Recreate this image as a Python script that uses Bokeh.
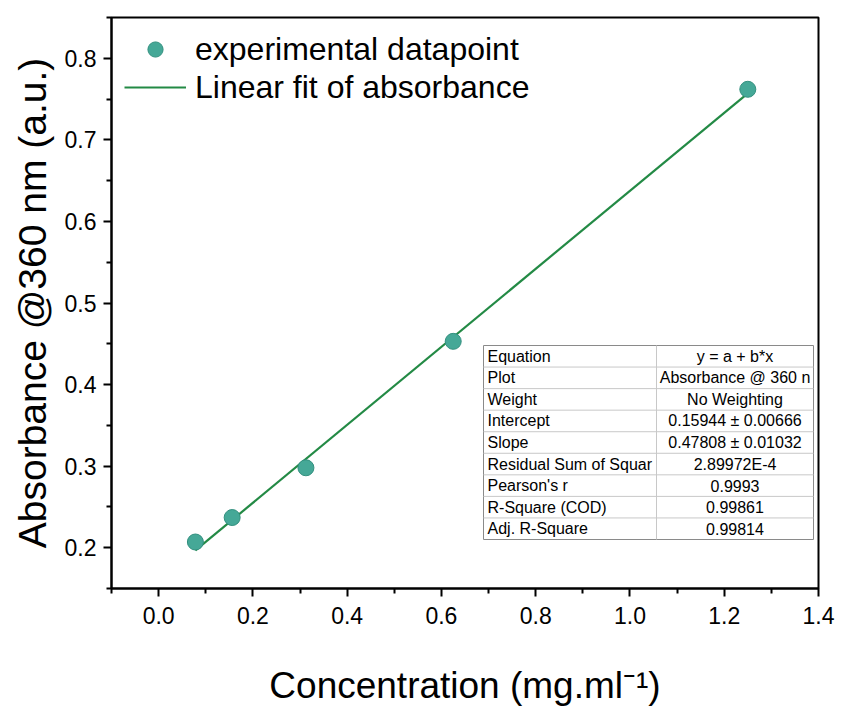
from bokeh.plotting import figure
from bokeh.models import Range1d, FixedTicker, Legend, LegendItem, PrintfTickFormatter
from bokeh.core.properties import value
from bokeh.embed import file_html
from bokeh.resources import INLINE

# ---------------- data ----------------
concentration = [0.078, 0.156, 0.3125, 0.625, 1.25]
absorbance = [0.207, 0.237, 0.298, 0.453, 0.762]
intercept = 0.15944
slope = 0.47808
fit_x = [min(concentration), max(concentration)]
fit_y = [intercept + slope * v for v in fit_x]

x_ticks = [0.0, 0.2, 0.4, 0.6, 0.8, 1.0, 1.2, 1.4]
x_minor = [-0.1, 0.1, 0.3, 0.5, 0.7, 0.9, 1.1, 1.3]
y_ticks = [0.2, 0.3, 0.4, 0.5, 0.6, 0.7, 0.8]
y_minor = [0.15, 0.25, 0.35, 0.45, 0.55, 0.65, 0.75, 0.85]

table_keys = ["Equation", "Plot", "Weight", "Intercept", "Slope",
              "Residual Sum of Squar", "Pearson's r", "R-Square (COD)", "Adj. R-Square"]
table_vals = ["y = a + b*x", "Absorbance @ 360 n", "No Weighting",
              "0.15944 \u00b1 0.00666", "0.47808 \u00b1 0.01032", "2.89972E-4",
              "0.9993", "0.99861", "0.99814"]

x_label = "Concentration (mg.ml\u207b\u00b9)"
y_label = "Absorbance @360 nm (a.u.)"
legend_labels = ["experimental datapoint", "Linear fit of absorbance"]

# ---------------- layout ----------------
W, H = 844, 709
X0, X1 = -0.1, 1.4
Y0, Y1 = 0.15, 0.85
FL, FR, FT, FB = 111, 818, 17, 588
FONT = "Liberation Sans"


def dx(px):
    return X0 + (px - FL) * (X1 - X0) / (FR - FL)


def dy(py):
    return Y1 - (py - FT) * (Y1 - Y0) / (FB - FT)


p = figure(width=W, height=H, output_backend="svg", toolbar_location=None,
           x_range=Range1d(X0, X1), y_range=Range1d(Y0, Y1),
           min_border_left=FL, min_border_right=W - FR,
           min_border_top=FT, min_border_bottom=H - FB)
p.background_fill_color = "white"
p.border_fill_color = "white"
p.outline_line_color = "black"
p.outline_line_width = 2
p.xgrid.visible = False
p.ygrid.visible = False

for ax in (p.xaxis[0], p.yaxis[0]):
    ax.axis_line_width = 2
    ax.major_tick_line_width = 2
    ax.minor_tick_line_width = 2
    ax.major_tick_out = 8
    ax.major_tick_in = 0
    ax.minor_tick_out = 5
    ax.minor_tick_in = 0
    ax.major_label_text_font = FONT
    ax.major_label_text_font_size = "23px"
    ax.major_label_text_color = "black"
    ax.axis_label_text_font = FONT
    ax.axis_label_text_font_style = "normal"
    ax.axis_label_text_color = "black"
    ax.formatter = PrintfTickFormatter(format="%.1f")

p.xaxis.ticker = FixedTicker(ticks=x_ticks, minor_ticks=x_minor)
p.yaxis.ticker = FixedTicker(ticks=y_ticks, minor_ticks=y_minor)
p.xaxis.major_label_standoff = 10
p.yaxis.major_label_standoff = 7

p.xaxis.axis_label = x_label
p.xaxis.axis_label_text_font_size = "37px"
p.xaxis.axis_label_standoff = 38
p.yaxis.axis_label = y_label
p.yaxis.axis_label_text_font_size = "39px"
p.yaxis.axis_label_standoff = 8

# ---------------- glyphs ----------------
fit = p.line(fit_x, fit_y, line_color="#238a45", line_width=2.2)
pts = p.scatter(concentration, absorbance, size=16, fill_color="#45a897",
                line_color="#33907f", line_width=1)

legend = Legend(items=[LegendItem(label=legend_labels[0], renderers=[pts]),
                       LegendItem(label=legend_labels[1], renderers=[fit])],
                location="top_left")
legend.label_text_font = FONT
legend.label_text_font_size = "32px"
legend.label_text_color = "black"
legend.glyph_width = 62
legend.glyph_height = 38
legend.label_height = 38
legend.label_standoff = 9
legend.spacing = 0
legend.margin = 13
legend.padding = 0
legend.border_line_color = None
legend.background_fill_alpha = 0
p.add_layout(legend)

# ---------------- fit results table ----------------
TL, TR, TT, TB, TC = 483, 813, 345, 539, 656
n = len(table_keys)
rh = (TB - TT) / n
p.quad(left=[dx(TL)], right=[dx(TR)], top=[dy(TT)], bottom=[dy(TB)],
       fill_color="white", line_color="#8a8a8a", line_width=1)
row_lines_y = [dy(TT + rh * i) for i in range(1, n)]
p.segment(x0=[dx(TL)] * (n - 1), x1=[dx(TR)] * (n - 1), y0=row_lines_y, y1=row_lines_y,
          line_color="#c8c8c8", line_width=1)
p.segment(x0=[dx(TC)], x1=[dx(TC)], y0=[dy(TT)], y1=[dy(TB)],
          line_color="#c8c8c8", line_width=1)
row_centers = [dy(TT + rh * (i + 0.5)) for i in range(n)]
p.text(x=[dx(TL + 4)] * n, y=row_centers, text=table_keys,
       text_font=value(FONT), text_font_size="16px", text_color="black",
       text_align="left", text_baseline="middle")
p.text(x=[dx((TC + TR) / 2)] * n, y=row_centers, text=table_vals,
       text_font=value(FONT), text_font_size="16px", text_color="black",
       text_align="center", text_baseline="middle")

open("out.html", "w").write(file_html(p, INLINE))
